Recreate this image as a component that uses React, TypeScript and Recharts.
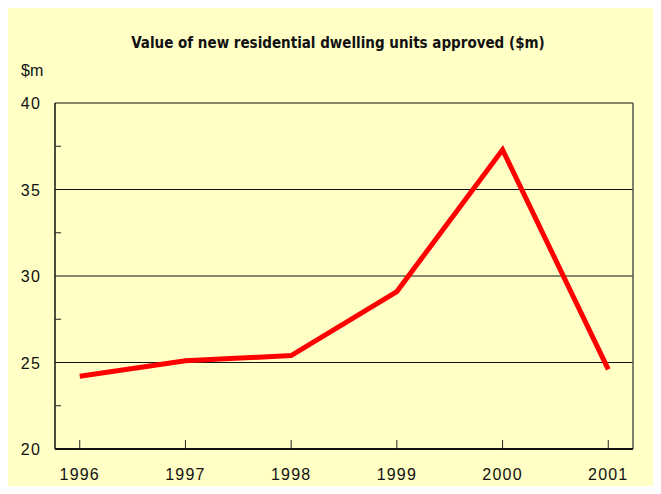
import { LineChart, Line, XAxis, YAxis, ReferenceLine } from "recharts";

// Value of new residential dwelling units approved ($m)
const years = [1996, 1997, 1998, 1999, 2000, 2001];
const values = [24.2, 25.1, 25.4, 29.1, 37.3, 24.6];
const yTicks = [20, 22.5, 25, 27.5, 30, 32.5, 35, 37.5, 40];
const gridValues = [25, 30, 35, 40];

const data = years.map((year, i) => ({ year, value: values[i] }));

const BG = "#FFFFC6";
const FONT = "'Liberation Sans', Arial, sans-serif";

function YTick({ y, payload }: { x?: number; y?: number; payload?: { value: number } }) {
  const v = payload?.value ?? 0;
  const ax = 55;
  if (v % 5 !== 0) {
    return <line x1={ax} x2={ax + 6} y1={y} y2={y} stroke="#222" strokeWidth={1} />;
  }
  return (
    <text x={41} y={(y ?? 0) + 6} textAnchor="end" fontSize={16} letterSpacing={1.2} fill="#111" fontFamily={FONT}>
      {v}
    </text>
  );
}

function XTick({ x, payload }: { x?: number; y?: number; payload?: { value: number } }) {
  const axY = 449;
  return (
    <g>
      <line x1={x} x2={x} y1={axY} y2={axY - 9} stroke="#222" strokeWidth={1} />
      <text x={x} y={axY + 31} textAnchor="middle" fontSize={16} letterSpacing={1.2} fill="#111" fontFamily={FONT}>
        {payload?.value}
      </text>
    </g>
  );
}

export default function App() {
  return (
    <div style={{ position: "relative", width: 661, height: 494, margin: -8, overflow: "hidden", background: "#fff" }}>
      <div
        style={{
          position: "absolute",
          left: 5,
          top: 5,
          width: 660,
          height: 485,
          background: BG,
          borderLeft: "3px solid #111",
          borderTop: "3px solid #111",
          borderBottom: "1px solid #999",
        }}
      />
      <div
        style={{
          position: "absolute",
          left: 0,
          top: 34,
          width: 676,
          textAlign: "center",
          fontFamily: "'Liberation Sans Narrow', 'DejaVu Sans Condensed', sans-serif",
          fontWeight: "bold",
          fontSize: 15,
          letterSpacing: 0,
          color: "#111",
        }}
      >
        Value of new residential dwelling units approved ($m)
      </div>
      <div
        style={{ position: "absolute", left: 21, top: 62, fontFamily: FONT, fontSize: 16, color: "#111" }}
      >
        $m
      </div>
      <div style={{ position: "absolute", left: 0, top: 0 }}>
        <LineChart width={661} height={494} data={data} margin={{ top: 103, right: 28, bottom: 0, left: 0 }}>
          <XAxis
            dataKey="year"
            type="number"
            domain={[1995.766, 2001.234]}
            ticks={years}
            tick={<XTick />}
            tickLine={false}
            axisLine={{ stroke: "#111", strokeWidth: 2 }}
            height={45}
            allowDataOverflow
          />
          <YAxis
            type="number"
            domain={[20, 40]}
            ticks={yTicks}
            tick={<YTick />}
            tickLine={false}
            axisLine={{ stroke: "#111", strokeWidth: 1.5 }}
            width={55}
            interval={0}
          />
          {gridValues.map((g) => (
            <ReferenceLine key={g} y={g} stroke="#111" strokeWidth={1} />
          ))}
          <ReferenceLine x={2001.234} stroke="#555" strokeWidth={1.5} />
          <Line
            type="linear"
            dataKey="value"
            stroke="#FF0000"
            strokeWidth={5}
            dot={false}
            isAnimationActive={false}
          />
        </LineChart>
      </div>
    </div>
  );
}
